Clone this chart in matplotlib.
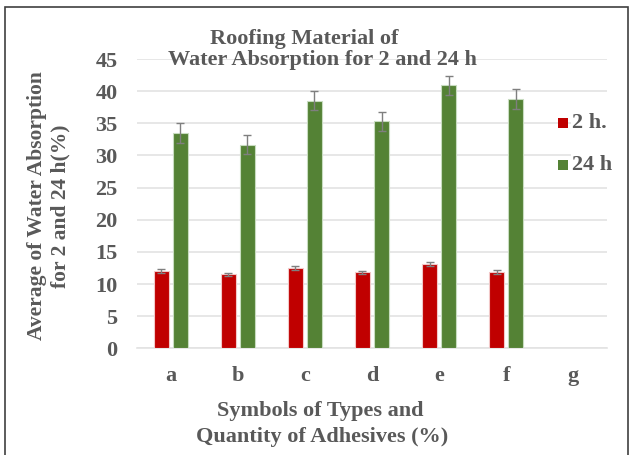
import matplotlib
matplotlib.use("Agg")
import matplotlib.pyplot as plt
import numpy as np
from matplotlib.patches import Rectangle

categories = ["a", "b", "c", "d", "e", "f", "g"]
vals_2h = [12.0, 11.5, 12.5, 11.8, 13.1, 11.9, np.nan]
vals_24h = [33.5, 31.7, 38.5, 35.3, 40.9, 38.8, np.nan]
err_2h = [0.3, 0.25, 0.3, 0.25, 0.3, 0.3, np.nan]
err_24h = [1.5, 1.5, 1.5, 1.5, 1.5, 1.5, np.nan]
yticks = [0, 5, 10, 15, 20, 25, 30, 35, 40, 45]

TXT = "#595959"
RED = "#C00000"
GREEN = "#548235"
FONT = "Liberation Serif"
FS = 16

fig = plt.figure(figsize=(6.32, 4.55), dpi=100)
ax = fig.add_axes([0.2168, 0.2345, 0.7436, 0.6358])

x = np.arange(len(categories))
w = 0.224
off = 0.142
ax.bar(x - off, vals_2h, w, color=RED, edgecolor="#f2c8c8", linewidth=0.8, zorder=3,
       yerr=err_2h, error_kw=dict(ecolor="#7f7f7f", elinewidth=1, capsize=3, capthick=1, zorder=4))
ax.bar(x + off, vals_24h, w, color=GREEN, edgecolor="#c8dcc0", linewidth=0.8, zorder=3,
       yerr=err_24h, error_kw=dict(ecolor="#7f7f7f", elinewidth=1, capsize=3, capthick=1, zorder=4))

ax.set_xlim(-0.5, len(categories) - 0.5)
ax.set_ylim(0, 45)
ax.set_yticks(yticks)
ax.set_xticks(x)
ax.set_xticklabels(categories)
ax.yaxis.grid(True, color="#e3e3e3", linewidth=1.2, zorder=0)
ax.set_axisbelow(True)
for s in ["top", "right", "left"]:
    ax.spines[s].set_visible(False)
ax.spines["bottom"].set_color("#e3e3e3")
ax.spines["bottom"].set_linewidth(1.2)
ax.tick_params(axis="both", length=0, labelsize=FS, colors=TXT)
ax.tick_params(axis="y", pad=14)
ax.tick_params(axis="x", pad=13)
for lab in ax.get_xticklabels() + ax.get_yticklabels():
    lab.set_fontfamily(FONT)
    lab.set_fontweight("bold")

tk = dict(family=FONT, weight="bold", color=TXT, fontsize=FS)
fig.text(304 / 632, 1 - 39 / 455, "Roofing Material of", ha="center", va="center", **tk)
fig.text(322 / 632, 1 - 60 / 455, "Water Absorption for 2 and 24 h", ha="center", va="center", **tk)

tkv = dict(tk, fontsize=15.5)
fig.text(37 / 632, 1 - 206 / 455, "Average of Water Absorption", rotation=90, ha="center", va="center", **tkv)
fig.text(60 / 632, 1 - 206 / 455, "for 2 and 24 h(%)", rotation=90, ha="center", va="center", **tkv)

fig.text(320 / 632, 1 - 411 / 455, "Symbols of Types and", ha="center", va="center", **tk)
fig.text(322 / 632, 1 - 437 / 455, "Quantity of Adhesives (%)", ha="center", va="center", **tk)

# legend
for (yy, col, lab) in [(123, RED, "2 h."), (165, GREEN, "24 h")]:
    fig.patches.append(Rectangle((558 / 632, 1 - (yy + 5) / 455), 10 / 632, 10 / 455,
                                 transform=fig.transFigure, facecolor=col, edgecolor="none", zorder=5))
    fig.text(572 / 632, 1 - yy / 455, lab, ha="left", va="center", zorder=6,
             bbox=dict(facecolor="white", edgecolor="none", pad=1), **tk)

# figure frame
fig.patches.append(Rectangle((5 / 632, -0.02), 623 / 632, 1 - 7 / 455 + 0.02,
                             transform=fig.transFigure, facecolor="none",
                             edgecolor="#404040", linewidth=1.2, zorder=10))

fig.savefig("out.png", dpi=100)
